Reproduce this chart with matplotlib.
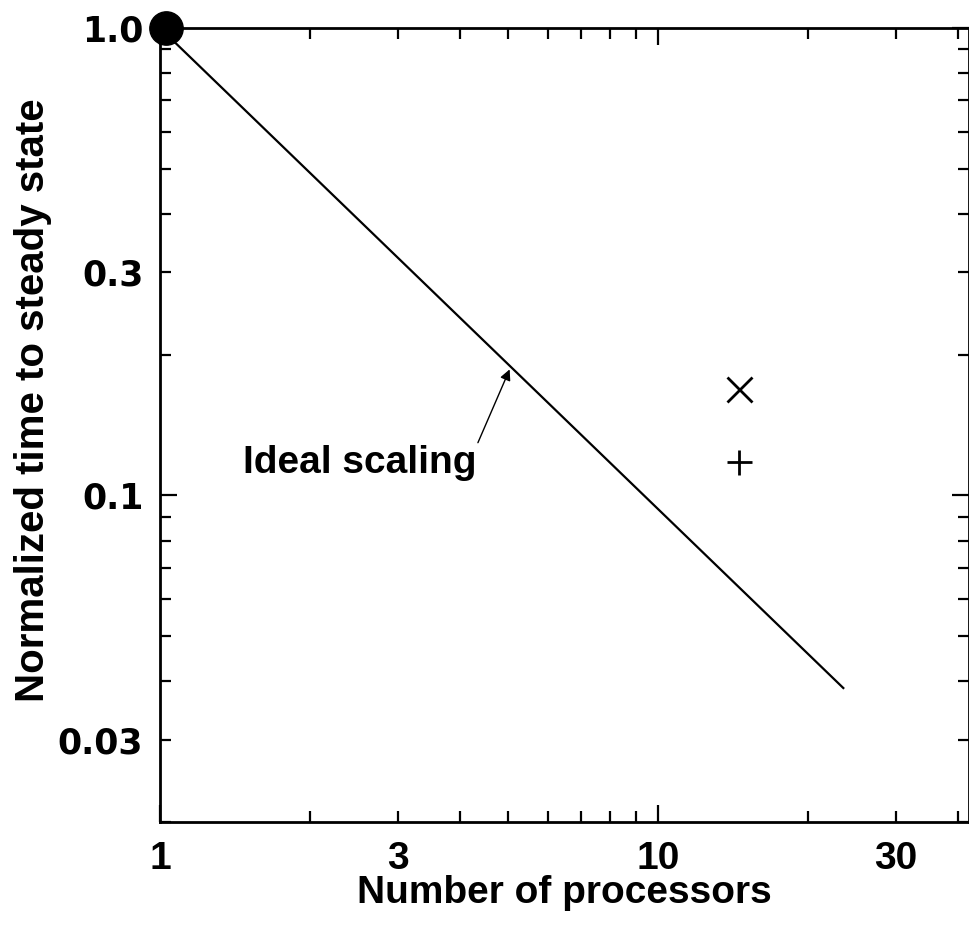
import matplotlib
matplotlib.use("Agg")
import matplotlib.pyplot as plt

# ---------- data ----------
ideal_n = [1, 23.5]
ideal_t = [1.0, 0.0387]
start_n = [1.03]
start_t = [1.0]
x_pts_n = [14.5]
x_pts_t = [0.169]
plus_pts_n = [14.5]
plus_t = [0.118]

x_major = [1, 10]
x_minor = [2, 3, 4, 5, 6, 7, 8, 9, 20, 30, 40]
x_minor_labels = ["", "3", "", "", "", "", "", "", "", "30", ""]
y_major = [1.0, 0.1]
y_minor = [0.9, 0.8, 0.7, 0.6, 0.5, 0.4, 0.3, 0.2,
           0.09, 0.08, 0.07, 0.06, 0.05, 0.04, 0.03, 0.02]
y_minor_labels = ["", "", "", "", "", "", "0.3", "",
                  "", "", "", "", "", "", "0.03", ""]

plt.rcParams["font.family"] = ["Liberation Sans", "DejaVu Sans"]
plt.rcParams["font.weight"] = "bold"

fig = plt.figure(figsize=(9.69, 9.36), dpi=100)
ax = fig.add_axes([160 / 969, 1 - 822 / 936, (969 - 160) / 969, (822 - 28) / 936])
ax.set_xscale("log")
ax.set_yscale("log")
ax.set_xlim(1, 42)
ax.set_ylim(0.02, 1.0)

ax.plot(ideal_n, ideal_t, color="black", lw=1.6)
ax.plot(start_n, start_t, "o", color="black", ms=24, clip_on=False, zorder=5)
ax.plot(x_pts_n, x_pts_t, "x", color="black", ms=18, mew=2)
ax.plot(plus_pts_n, plus_t, "+", color="black", ms=18, mew=2)

ax.annotate("Ideal scaling", xy=(5.03, 0.186), xytext=(4.32, 0.117),
            ha="right", va="center", fontsize=28, fontweight="bold",
            arrowprops=dict(arrowstyle="-|>", color="black", lw=1,
                            mutation_scale=16, shrinkA=0, shrinkB=0,
                            relpos=(1.0, 1.0)))

ax.set_xticks(x_major, ["1", "10"])
ax.set_xticks(x_minor, x_minor_labels, minor=True)
ax.set_yticks(y_major, ["1.0", "0.1"])
ax.set_yticks(y_minor, y_minor_labels, minor=True)

for which, ln in (("major", 12), ("minor", 8)):
    ax.tick_params(axis="both", which=which, direction="in", length=ln,
                   width=1.6, top=True, right=True)
    ax.tick_params(axis="x", which=which, labelsize=28, pad=14)
    ax.tick_params(axis="y", which=which, labelsize=25, pad=12)

for lab in ax.get_yticklabels() + ax.get_yticklabels(minor=True):
    lab.set_family("DejaVu Sans")
    lab.set_fontweight("bold")

for s in ax.spines.values():
    s.set_linewidth(2)

ax.set_xlabel("Number of processors", fontsize=28, fontweight="bold", labelpad=-2)
ax.set_ylabel("Normalized time to steady state", fontsize=29, fontweight="bold", labelpad=4)
ax.yaxis.label.set_y(0.531)

fig.savefig("out.png", dpi=100)
